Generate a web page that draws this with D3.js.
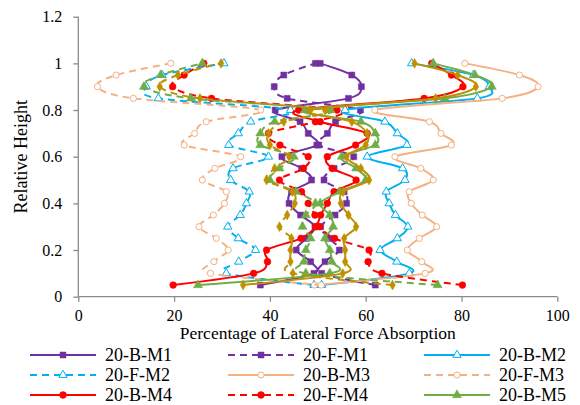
<!DOCTYPE html>
<html><head><meta charset="utf-8">
<script src="https://cdn.jsdelivr.net/npm/d3@7/dist/d3.min.js"></script>
<style>body{margin:0;background:#fff}svg{display:block}</style>
</head><body><svg id="c" width="580" height="405"></svg>
<script>
// Relative heights (ascending)
const heights = [0.05,0.10,0.15,0.20,0.25,0.30,0.35,0.40,0.45,0.50,0.55,0.60,0.65,0.70,0.75,0.80,0.85,0.90,0.95,1.00];
const xTicks = [0,20,40,60,80,100];
const yTicks = [0,0.2,0.4,0.6,0.8,1,1.2];
const seriesNames = ["20-B-M1","20-F-M1","20-B-M2","20-F-M2","20-B-M3","20-F-M3","20-B-M4","20-F-M4","20-B-M5","20-F-M5","20-B-M6","20-F-M6"];
const legendVisible = 9; // the reference legend is cut by the picture edge after 3 rows

const B_M1 = [38.0,49.2,48.5,45.5,47.6,49.4,46.4,44.0,44.5,48.7,46.6,42.5,49.8,48.0,46.3,41.1,56.4,59.1,57.1,50.5];
const F_M1 = [62.0,50.8,51.5,54.5,52.4,50.6,53.6,56.0,55.5,51.3,53.4,57.5,50.2,52.0,53.7,58.9,43.6,40.9,42.9,49.5];
const B_M2 = [50.8,69.1,66.5,63.0,66.6,68.8,66.2,64.9,64.3,68.2,67.7,60.3,68.6,66.6,64.0,55.7,83.3,85.8,82.5,69.6];
const F_M2 = [49.2,30.9,33.5,37.0,33.4,31.2,33.8,35.1,35.7,31.8,32.3,39.7,31.4,33.4,36.0,44.3,16.7,14.2,17.5,30.4];
const B_M3 = [49.3,72.4,71.7,68.7,71.2,74.8,71.8,69.5,69.1,74.1,71.5,66.1,77.9,75.7,73.3,61.9,88.5,96.0,92.1,80.7];
const F_M3 = [50.7,27.6,28.3,31.3,28.8,25.2,28.2,30.5,30.9,25.9,28.5,33.9,22.1,24.3,26.7,38.1,11.5,4.0,7.9,19.3];
const B_M4 = [19.8,36.6,39.5,39.3,46.5,49.6,50.6,52.0,53.4,58.0,53.0,52.0,57.9,60.3,50.5,46.0,72.2,80.3,77.9,73.8];
const F_M4 = [80.2,63.4,60.5,60.7,53.5,50.4,49.4,48.0,46.6,42.0,47.0,48.0,42.1,39.7,49.5,54.0,27.8,19.7,22.1,26.2];
const B_M5 = [25.0,52.5,52.9,52.5,51.5,53.2,52.5,50.5,54.6,60.0,58.0,55.0,62.0,62.0,59.0,47.3,76.5,86.3,82.8,74.1];
const F_M5 = [75.0,47.5,47.1,47.5,48.5,46.8,47.5,49.5,45.4,40.0,42.0,45.0,38.0,38.0,41.0,52.7,23.5,13.7,17.2,25.9];
const B_M6 = [34.4,55.2,55.7,55.7,55.5,58.0,56.4,54.8,55.3,60.7,59.0,56.0,60.0,60.3,57.1,48.5,74.6,83.0,79.2,70.2];
const F_M6 = [65.6,44.8,44.3,44.3,44.5,42.0,43.6,45.2,44.7,39.3,41.0,44.0,40.0,39.7,42.9,51.5,25.4,17.0,20.8,29.8];

const seriesValues = [B_M1,F_M1,B_M2,F_M2,B_M3,F_M3,B_M4,F_M4,B_M5,F_M5,B_M6,F_M6];
const colors = {M1:"#7030A0",M2:"#00B0F0",M3:"#F4B183",M4:"#FF0000",M5:"#70AD47",M6:"#BF9000"};
const markerOf = {M1:"square",M2:"triangleOpen",M3:"circleOpen",M4:"circle",M5:"triangle",M6:"diamond"};

const svg = d3.select("#c");
const x = d3.scaleLinear().domain([0,100]).range([78.3,557.3]);
const y = d3.scaleLinear().domain([0,1.2]).range([296.7,16.7]);
const axisColor = "#8c8c8c";
const font = "Liberation Serif, Tinos, Times New Roman, Nimbus Roman, DejaVu Serif, Noto Serif, serif";

// axes
const gx = svg.append("g").attr("transform",`translate(0,${y(0)})`)
  .call(d3.axisBottom(x).tickValues(xTicks).tickSize(5).tickPadding(8).tickFormat(d3.format("d")));
const gy = svg.append("g").attr("transform",`translate(${x(0)},0)`)
  .call(d3.axisLeft(y).tickValues(yTicks).tickSize(5).tickPadding(11).tickFormat(d=>String(d)));
[gx,gy].forEach(g=>{
  g.attr("font-family",font).attr("font-size",16);
  g.selectAll("path").attr("stroke",axisColor).attr("stroke-width",1.3);
  g.selectAll("line").attr("stroke",axisColor).attr("stroke-width",1.3);
  g.selectAll("text").attr("fill","#000");
});
gx.select(".domain").attr("d",`M${x(0)},0H${x(100)}`);
gy.select(".domain").attr("d",`M0,${y(0)}V${y(1.2)}`);

svg.append("text").attr("x",(x(0)+x(100))/2).attr("y",339)
  .attr("text-anchor","middle").attr("font-family",font).attr("font-size",17.5)
  .text("Percentage of Lateral Force Absorption");
svg.append("text").attr("transform",`translate(27,${(y(0)+y(1.2))/2}) rotate(-90)`)
  .attr("text-anchor","middle").attr("font-family",font).attr("font-size",18)
  .text("Relative Height");

function drawMarker(g, type, color, cx, cy){
  const map = {square:[d3.symbolSquare,36],triangleOpen:[d3.symbolTriangle,30],circleOpen:[d3.symbolCircle,30],
               circle:[d3.symbolCircle,36],triangle:[d3.symbolTriangle,36],diamond:[d3.symbolDiamond,28]};
  const [sym,size] = map[type];
  const open = type.endsWith("Open");
  g.append("path").attr("d",d3.symbol().type(sym).size(size)())
    .attr("transform",`translate(${cx},${cy})`)
    .attr("fill",open?"#fff":color).attr("stroke",color).attr("stroke-width",open?1:0.5);
}

const line = d3.line().x(d=>x(d[0])).y(d=>y(d[1])).curve(d3.curveCatmullRom.alpha(0));
const plot = svg.append("g");
seriesNames.forEach((name,i)=>{
  const m = name.slice(-2);
  const dashed = name.includes("-F-");
  const col = colors[m];
  const pts = seriesValues[i].map((v,j)=>[v,heights[j]]);
  const g = plot.append("g");
  g.append("path").attr("d",line(pts)).attr("fill","none").attr("stroke",col)
    .attr("stroke-width",2).attr("stroke-dasharray",dashed?"7,5":null);
  pts.forEach(p=>drawMarker(g,markerOf[m],col,x(p[0]),y(p[1])));
});

// legend (only the rows the reference picture shows)
const colX = [30,228,424], rowY = [355,375,395];
const leg = svg.append("g");
seriesNames.slice(0,legendVisible).forEach((name,i)=>{
  const m = name.slice(-2);
  const dashed = name.includes("-F-");
  const cx = colX[i%3], cy = rowY[Math.floor(i/3)];
  const g = leg.append("g");
  g.append("line").attr("x1",cx).attr("x2",cx+66).attr("y1",cy).attr("y2",cy)
    .attr("stroke",colors[m]).attr("stroke-width",2).attr("stroke-dasharray",dashed?"7,5":null);
  drawMarker(g,markerOf[m],colors[m],cx+33,cy);
  g.append("text").attr("x",cx+75).attr("y",cy+6).attr("font-family",font).attr("font-size",18).text(name);
});
</script></body></html>
